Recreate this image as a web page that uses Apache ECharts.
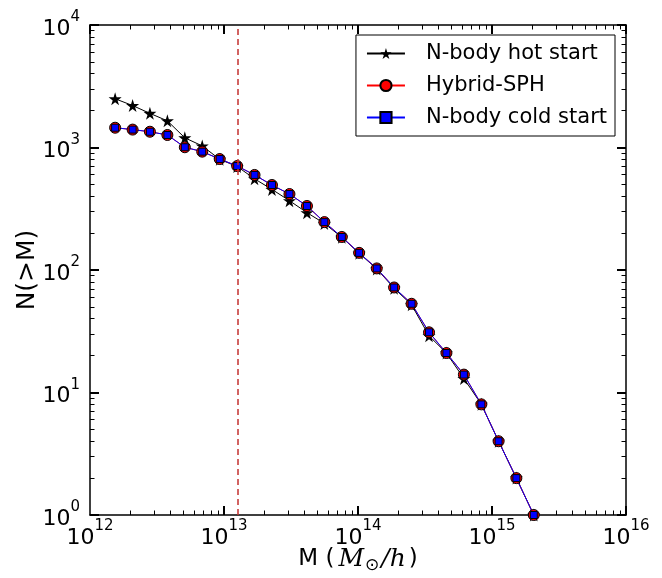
<!DOCTYPE html>
<html>
<head>
<meta charset="utf-8">
<script src="https://cdn.jsdelivr.net/npm/echarts@6/dist/echarts.min.js"></script>
<style>
  html, body { margin: 0; padding: 0; background: #fff; }
  #chart { width: 662px; height: 578px; }
</style>
</head>
<body>
<div id="chart"></div>
<script>
// halo mass bins (M_sun/h)
var massBins = [1.54e12, 2.08e12, 2.80e12, 3.78e12, 5.10e12, 6.88e12, 9.29e12, 1.254e13,
  1.69e13, 2.28e13, 3.08e13, 4.16e13, 5.61e13, 7.57e13, 1.02e14, 1.38e14, 1.86e14,
  2.51e14, 3.39e14, 4.57e14, 6.17e14, 8.33e14, 1.12e15, 1.52e15, 2.05e15];

// cumulative counts N(>M)
var hotStart = [2500, 2200, 1900, 1650, 1200, 1030, 800, 700, 555, 455, 368, 294, 240,
  185, 137, 102, 71, 52, 29, 21, 13, 8, 4, 2, 1];
var hybridSph = [1450, 1400, 1345, 1265, 1005, 925, 805, 706, 597, 494, 417, 333, 246,
  186, 138, 103, 72, 53, 31, 21, 14, 8, 4, 2, 1];
var coldStart = [1450, 1400, 1345, 1265, 1005, 925, 805, 706, 597, 494, 417, 333, 246,
  186, 138, 103, 72, 53, 31, 21, 14, 8, 4, 2, 1];

var cutMass = 1.27e13; // dashed line

// tick exponents
var xTickExp = [12, 13, 14, 15, 16];
var yTickExp = [0, 1, 2, 3, 4];

var font = 'DejaVu Sans';
var starPath = 'path://M50,0 L61,35 L98,35 L68,57 L79,91 L50,70 L21,91 L32,57 L2,35 L39,35 Z';

function pairs(ys) {
  return massBins.map(function (m, i) { return [m, ys[i]]; });
}
function minorTicks(exps) {
  var out = [];
  for (var i = 0; i < exps.length - 1; i++) {
    for (var k = 2; k <= 9; k++) out.push(k * Math.pow(10, exps[i]));
  }
  return out;
}
function majorTicks(exps) {
  return exps.map(function (e) { return Math.pow(10, e); });
}
function expLabel(v) {
  return '{b|10}{s|' + Math.round(Math.log10(v)) + '}';
}
var labelRich = {
  b: { fontSize: 22, fontFamily: font, color: '#000', lineHeight: 30, verticalAlign: 'bottom' },
  s: { fontSize: 15, fontFamily: font, color: '#000', lineHeight: 15, verticalAlign: 'top' }
};

function makeAxis(pos, exps, major, extra) {
  var ax = {
    type: 'log',
    logBase: 10,
    min: Math.pow(10, exps[0]),
    max: Math.pow(10, exps[exps.length - 1]),
    position: pos,
    splitLine: { show: false },
    axisLine: { show: major, onZero: false, lineStyle: { color: '#000', width: 1.5 } },
    axisTick: {
      show: true,
      inside: true,
      length: major ? 9 : 4.5,
      lineStyle: { color: '#000', width: major ? 2 : 1 },
      customValues: major ? majorTicks(exps) : minorTicks(exps)
    },
    axisLabel: { show: false },
    axisPointer: { show: false }
  };
  return Object.assign(ax, extra || {});
}

var chart = echarts.init(document.getElementById('chart'));

chart.setOption({
  animation: false,
  backgroundColor: '#fff',
  grid: { left: 90, right: 36, top: 25, bottom: 63, outerBoundsMode: 'none', containLabel: false },
  legend: {
    orient: 'vertical',
    right: 47,
    top: 35,
    borderColor: '#000',
    borderWidth: 1,
    borderRadius: 0,
    padding: [6, 8, 6, 10],
    itemWidth: 38,
    itemHeight: 14,
    itemGap: 7,
    textStyle: { fontSize: 21, lineHeight: 25, color: '#000', fontFamily: font, padding: [0, 0, 0, 16] },
    data: ['N-body hot start', 'Hybrid-SPH', 'N-body cold start']
  },
  xAxis: [
    makeAxis('bottom', xTickExp, true, {
      axisLabel: {
        show: true,
        margin: 4,
        formatter: expLabel,
        rich: labelRich,
        showMinLabel: true,
        showMaxLabel: true
      },
      name: '{n|M (}{i|M}{sub|\u2299}{i|/h}{n|)}',
      nameLocation: 'middle',
      nameGap: 30,
      nameMoveOverlap: false,
      nameTextStyle: {
        rich: {
          n: { fontSize: 23, fontFamily: font, color: '#000', padding: [0, 2, 0, 2] },
          i: { fontSize: 25, fontFamily: 'DejaVu Serif', fontStyle: 'italic', color: '#000', padding: [0, 1, 0, 2] },
          sub: { fontSize: 17, fontFamily: font, color: '#000', verticalAlign: 'bottom', padding: [12, 0, 0, 0] }
        }
      }
    }),
    makeAxis('bottom', xTickExp, false),
    makeAxis('top', xTickExp, true),
    makeAxis('top', xTickExp, false)
  ],
  yAxis: [
    makeAxis('left', yTickExp, true, {
      axisLabel: {
        show: true,
        margin: 10,
        formatter: expLabel,
        rich: labelRich,
        showMinLabel: true,
        showMaxLabel: true
      },
      name: 'N(>M)',
      nameLocation: 'middle',
      nameRotate: 90,
      nameGap: 50,
      nameMoveOverlap: false,
      nameTextStyle: { fontSize: 25, fontFamily: font, color: '#000' }
    }),
    makeAxis('left', yTickExp, false),
    makeAxis('right', yTickExp, true),
    makeAxis('right', yTickExp, false)
  ],
  series: [
    {
      name: 'N-body hot start',
      type: 'line',
      data: pairs(hotStart),
      clip: false,
      symbol: starPath,
      symbolSize: 13,
      showAllSymbol: true,
      lineStyle: { color: '#000', width: 1 },
      itemStyle: { color: '#000', borderColor: '#000', borderWidth: 0 },
      markLine: {
        silent: true,
        symbol: 'none',
        label: { show: false },
        lineStyle: { color: '#c4302f', type: [6, 4], width: 1.5 },
        data: [{ xAxis: cutMass }]
      }
    },
    {
      name: 'Hybrid-SPH',
      type: 'line',
      data: pairs(hybridSph),
      clip: false,
      symbol: 'circle',
      symbolSize: 11,
      showAllSymbol: true,
      lineStyle: { color: '#ff0000', width: 1 },
      itemStyle: { color: '#ff0000', borderColor: '#000', borderWidth: 1 }
    },
    {
      name: 'N-body cold start',
      type: 'line',
      data: pairs(coldStart),
      clip: false,
      symbol: 'rect',
      symbolSize: 7,
      showAllSymbol: true,
      lineStyle: { color: '#0000ff', width: 1 },
      itemStyle: { color: '#0000ff', borderColor: '#000', borderWidth: 1 }
    }
  ]
});
</script>
</body>
</html>
